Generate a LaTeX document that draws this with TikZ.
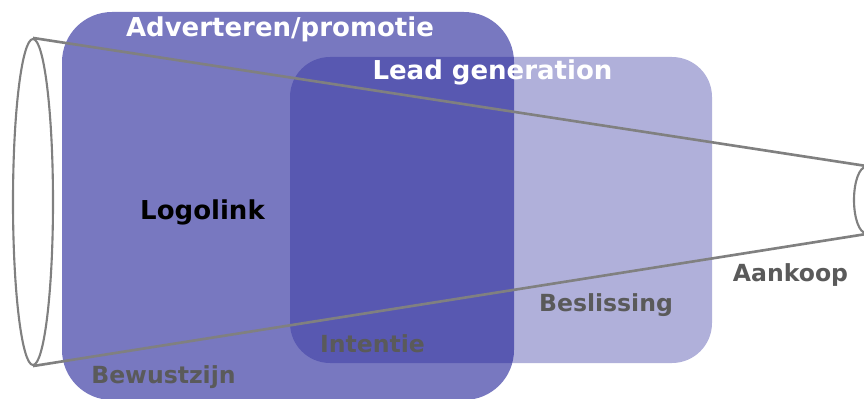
\documentclass[tikz,border=0pt]{standalone}
\usepackage{fontspec}
\setmainfont{DejaVu Sans}
\usetikzlibrary{shapes.geometric}
\definecolor{navy}{RGB}{30,30,150}
\definecolor{labelgray}{RGB}{90,90,90}
\definecolor{funnelgray}{RGB}{128,128,128}

\begin{document}
\begin{tikzpicture}[
	phase/.style={fill=navy,rounded corners=1cm},
	stage/.style={font=\fontsize{13.4}{16}\selectfont\bfseries,text=labelgray,anchor=base},
	title/.style={font=\fontsize{14.8}{18}\selectfont\bfseries,anchor=base},
	rim/.style={draw=funnelgray,line width=1.2pt,fill=white,ellipse,inner sep=0pt}
]
	\useasboundingbox (0,0) rectangle (17.28,7.96);

	%blocks
	\fill[phase,fill opacity=0.6] (1.24,-0.04) rectangle (10.28,7.72);	%advertising
	\fill[phase,fill opacity=0.35,rounded corners=0.8cm] (5.8,0.7) rectangle (14.24,6.82);	%lead generation

	%funnel
	\node[rim,minimum width=0.8cm,minimum height=6.52cm] (mouth) at (0.66,3.92) {};
	\node[rim,minimum width=0.48cm,minimum height=1.32cm] (neck) at (17.32,3.96) {};
	\draw[funnelgray,line width=1.5pt] (mouth.north) -- (neck.north);	%upper side
	\draw[funnelgray,line width=1.5pt] (mouth.south) -- (neck.south);	%lower side

	%block titles
	\node[title,text=white] (advert) at (5.6,7.22) {Adverteren/promotie};
	\node[title,text=white] (lead) at (9.85,6.36) {Lead generation};
	\node[title,text=black] (logo) at (4.05,3.56) {Logolink};

	%stages
	\node[stage] (aware) at (3.27,0.30) {Bewustzijn};
	\node[stage] (intent) at (7.45,0.92) {Intentie};
	\node[stage] (decide) at (12.12,1.72) {Beslissing};
	\node[stage] (buy) at (15.81,2.32) {Aankoop};
\end{tikzpicture}
\end{document}
